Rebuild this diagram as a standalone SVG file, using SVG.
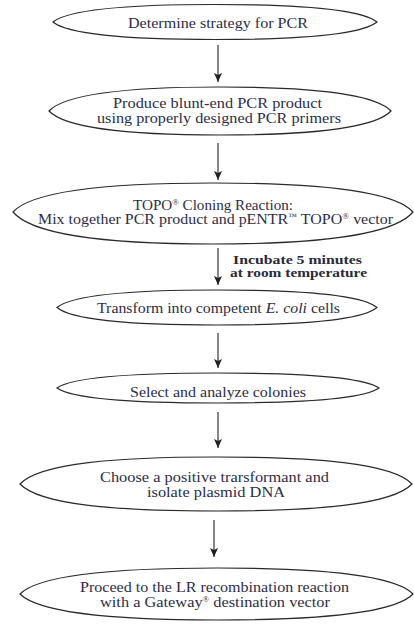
<svg xmlns="http://www.w3.org/2000/svg" width="414" height="625" viewBox="0 0 414 625">
<defs>
<style>
.node{fill:none;stroke:#2a2a2a;stroke-width:1.2}
.t{font-family:"Liberation Serif","Times New Roman",serif;font-size:15px;fill:#2d2d48;text-anchor:middle}
.t14{font-size:14px}
.b{font-family:"Liberation Serif","Times New Roman",serif;font-size:13px;font-weight:bold;fill:#2a2a38;text-anchor:middle}
.sup{font-size:8px}
.conn{stroke:#222;stroke-width:1.1;fill:none;marker-end:url(#ah)}
</style>
<marker id="ah" markerUnits="userSpaceOnUse" markerWidth="9" markerHeight="8" viewBox="0 0 9 8" refX="9" refY="4" orient="auto">
<path d="M0,0 L9,4 L0,8 L2,4 Z" fill="#222"/>
</marker>
</defs>
<rect width="414" height="625" fill="#fff"/>
<g id="connectors">
<line class="conn" x1="218" y1="45" x2="218" y2="82"/>
<line class="conn" x1="218" y1="143" x2="218" y2="180"/>
<line class="conn" x1="218" y1="248" x2="218" y2="285"/>
<line class="conn" x1="218" y1="333" x2="218" y2="368"/>
<line class="conn" x1="218" y1="412" x2="218" y2="448"/>
<line class="conn" x1="214" y1="520" x2="214" y2="557"/>
<text class="b" x="297.5" y="263.5" textLength="129" lengthAdjust="spacingAndGlyphs">Incubate 5 minutes</text>
<text class="b" x="298.5" y="277" textLength="137" lengthAdjust="spacingAndGlyphs">at room temperature</text>
</g>
<g id="n1">
<path class="node" d="M53,22 C69,9 134,4.5 215,4.5 C296,4.5 361,9 377,22 C361,35 296,39.5 215,39.5 C134,39.5 69,35 53,22 Z"/>
<text class="t" x="218" y="28" textLength="180" lengthAdjust="spacingAndGlyphs">Determine strategy for PCR</text>
</g>
<g id="n2">
<path class="node" d="M49,111 C66,93 134,87 220,87 C306,87 374,93 391,111 C374,129 306,135 220,135 C134,135 66,129 49,111 Z"/>
<text class="t" x="217.5" y="108" textLength="209" lengthAdjust="spacingAndGlyphs">Produce blunt-end PCR product</text>
<text class="t" x="219" y="123" textLength="244" lengthAdjust="spacingAndGlyphs">using properly designed PCR primers</text>
</g>
<g id="n3">
<path class="node" d="M13,212 C33,190 113,183 213,183 C313,183 393,190 413,212 C393,236 313,244 213,244 C113,244 33,236 13,212 Z"/>
<text class="t t14" x="213" y="209.5" textLength="160" lengthAdjust="spacingAndGlyphs">TOPO<tspan class="sup" dy="-5">®</tspan><tspan dy="5"> Cloning Reaction:</tspan></text>
<text class="t t14" x="215.5" y="224" textLength="355" lengthAdjust="spacingAndGlyphs">Mix together PCR product and pENTR<tspan class="sup" dy="-5">™</tspan><tspan dy="5"> TOPO</tspan><tspan class="sup" dy="-5">®</tspan><tspan dy="5"> vector</tspan></text>
</g>
<g id="n4">
<path class="node" d="M57,307.5 C73,294 137,290 217,290 C297,290 361,294 377,307.5 C361,321 297,325 217,325 C137,325 73,321 57,307.5 Z"/>
<text class="t" x="218.5" y="313" textLength="243" lengthAdjust="spacingAndGlyphs">Transform into competent <tspan font-style="italic">E. coli</tspan> cells</text>
</g>
<g id="n5">
<path class="node" d="M57,388 C73,376.5 137,373 218,373 C299,373 363,376.5 379,388 C363,399.5 299,403 218,403 C137,403 73,399.5 57,388 Z"/>
<text class="t" x="218" y="397" textLength="176" lengthAdjust="spacingAndGlyphs">Select and analyze colonies</text>
</g>
<g id="n6">
<path class="node" d="M20,484 C40,463 117,457 216,457 C315,457 392,463 412,484 C392,505 315,511 216,511 C117,511 40,505 20,484 Z"/>
<text class="t" x="214.5" y="482" textLength="229" lengthAdjust="spacingAndGlyphs">Choose a positive trarsformant and</text>
<text class="t" x="216" y="497" textLength="138" lengthAdjust="spacingAndGlyphs">isolate plasmid DNA</text>
</g>
<g id="n7">
<path class="node" d="M20,594 C40,574 118,568 217,568 C316,568 394,574 413,594 C394,614 316,620 217,620 C118,620 40,614 20,594 Z"/>
<text class="t" x="214.5" y="592" textLength="269" lengthAdjust="spacingAndGlyphs">Proceed to the LR recombination reaction</text>
<text class="t" x="215" y="607" textLength="230" lengthAdjust="spacingAndGlyphs">with a Gateway<tspan class="sup" dy="-5">®</tspan><tspan dy="5"> destination vector</tspan></text>
</g>
</svg>
